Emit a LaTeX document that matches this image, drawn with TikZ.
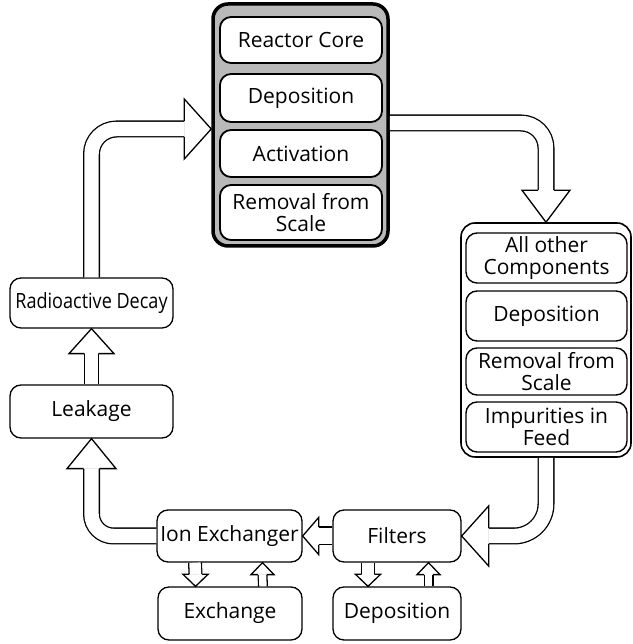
\documentclass[tikz,border=0pt]{standalone}
\usepackage{fontspec}
\setmainfont{Open Sans}
\usepackage{tikz}

\newcommand{\labelfont}{\fontsize{21}{22}\selectfont}

\tikzset{
	box/.style={draw, line width=1.3pt, rounded corners=11pt, fill=white,
		align=center, inner sep=0pt, font=\labelfont},
	corebox/.style={box, line width=1.8pt, minimum width=162pt},
	otherbox/.style={box, line width=1.4pt, minimum width=161pt},
	coregroup/.style={draw, line width=3.5pt, fill=gray!55, rounded corners=15pt,
		minimum width=175pt, minimum height=242pt},
	othergroup/.style={draw, line width=1.6pt, fill=white, rounded corners=14pt,
		minimum width=170pt, minimum height=234pt},
	pipe/.style={draw=black, line width=1.3pt, double=white, double distance=#1},
	pics/blockhead/.style n args={3}{code={
		\filldraw[fill=white, line width=1.3pt, line join=miter]
			(-#1,#3) -- (-#1,#2) -- (0,0) -- (-#1,-#2) -- (-#1,-#3);
	}}
}

\begin{document}
\begin{tikzpicture}[x=1pt, y=1pt]
	\useasboundingbox (0,0) rectangle (632,644);

	% reactor core group
	\node[coregroup] (core) at (300.5,519) {};
	\node[corebox, minimum height=46pt] (reactor) at (301,604) {Reactor Core};
	\node[corebox, minimum height=48pt] (depa) at (301,546) {Deposition};
	\node[corebox, minimum height=47pt] (activ) at (301,490.5) {Activation};
	\node[corebox, minimum height=55pt] (rema) at (301,431.5) {Removal from\\Scale};

	% all other components group
	\node[othergroup] (other) at (546,304) {};
	\node[otherbox, minimum height=50pt] (comp) at (546.5,386) {All other\\Components};
	\node[otherbox, minimum height=50pt] (depb) at (546.5,328) {Deposition};
	\node[otherbox, minimum height=47pt] (remb) at (546.5,272.5) {Removal from\\Scale};
	\node[otherbox, minimum height=50pt] (feed) at (546.5,217) {Impurities in\\Feed};

	% left column
	\node[box, minimum width=163pt, minimum height=50pt] (decay) at (91.5,341)
		{\scalebox{0.86}[1]{Radioactive Decay}};
	\node[box, minimum width=163pt, minimum height=53pt] (leak) at (91.5,232.5) {Leakage};

	% bottom row
	\node[box, minimum width=145pt, minimum height=52pt] (ionx) at (229.5,108) {Ion Exchanger};
	\node[box, minimum width=128pt, minimum height=52pt] (filt) at (397,108) {Filters};
	\node[box, minimum width=144pt, minimum height=53pt] (exch) at (230,30.5) {Exchange};
	\node[box, minimum width=128pt, minimum height=53pt] (depc) at (397,30.5) {Deposition};

	% big arrows round the loop
	\draw[pipe=14.4pt, rounded corners=25pt] (decay.north) |- ([xshift=-27pt,yshift=-4pt]core.west);
	\pic at ([yshift=-4pt]core.west) {blockhead={27}{30}{7.85}};

	\draw[pipe=14.4pt, rounded corners=25pt] ([yshift=2pt]core.east) -| ([yshift=32pt]other.north);
	\pic[rotate=-90] at (other.north) {blockhead={32}{24}{7.85}};

	\draw[pipe=14.4pt, rounded corners=32pt] (other.south) |- ([xshift=27pt]filt.east);
	\pic[rotate=180] at (filt.east) {blockhead={27}{30}{7.85}};

	\draw[pipe=16.4pt] (filt.west) -- ([xshift=16pt]ionx.east);
	\pic[rotate=180] at (ionx.east) {blockhead={16}{18.5}{8.85}};

	\draw[pipe=14.4pt, rounded corners=22pt] (ionx.west) -| ([yshift=-30pt]leak.south);
	\pic[rotate=90] at (leak.south) {blockhead={30}{24.5}{7.85}};

	\draw[pipe=12.4pt] (leak.north) -- ([yshift=-25pt]decay.south);
	\pic[rotate=90] at (decay.south) {blockhead={25}{22.5}{6.85}};

	% small arrows to the bottom boxes
	\draw[pipe=11.4pt] ([xshift=-34.5pt]ionx.south) -- ([xshift=-34.5pt,yshift=12pt]exch.north);
	\pic[rotate=-90] at ([xshift=-34.5pt]exch.north) {blockhead={12}{12.5}{6.35}};
	\draw[pipe=7.4pt] ([xshift=33pt]exch.north) -- ([xshift=33pt,yshift=-12pt]ionx.south);
	\pic[rotate=90] at ([xshift=33pt]ionx.south) {blockhead={12}{11.5}{4.35}};

	\draw[pipe=11.4pt] ([xshift=-29pt]filt.south) -- ([xshift=-29pt,yshift=12pt]depc.north);
	\pic[rotate=-90] at ([xshift=-29pt]depc.north) {blockhead={12}{12.5}{6.35}};
	\draw[pipe=7.4pt] ([xshift=31.5pt]depc.north) -- ([xshift=31.5pt,yshift=-12pt]filt.south);
	\pic[rotate=90] at ([xshift=31.5pt]filt.south) {blockhead={12}{11.5}{4.35}};
\end{tikzpicture}
\end{document}
